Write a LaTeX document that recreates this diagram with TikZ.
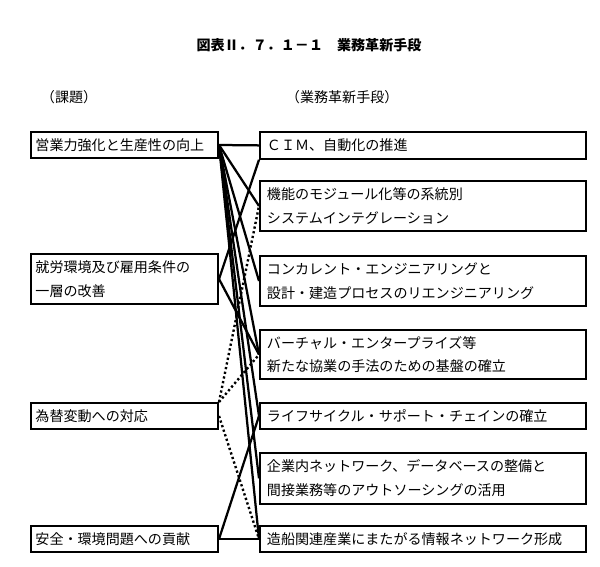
\documentclass[tikz,border=0pt]{standalone}
\usepackage{fontspec}
\setmainfont{Noto Sans CJK JP}
\usepackage{tikz}
\usetikzlibrary{positioning}

\begin{document}
\begin{tikzpicture}[
  x=0.025cm, y=-0.025cm,
  every node/.style={font=\fontsize{10}{17}\selectfont},
  issue/.style={rectangle, draw=black, line width=1.4pt, anchor=north west,
                minimum width=4.675cm, text width=4.45cm, inner xsep=0.11cm,
                align=left},
  means/.style={rectangle, draw=black, line width=1.4pt, anchor=north west,
                minimum width=8.15cm, text width=7.8cm, inner xsep=0.17cm,
                align=left},
  link/.style={draw=black, line width=1.6pt},
  weak/.style={draw=black, line width=1.7pt, dash pattern=on 1.6pt off 1.8pt}
]
\useasboundingbox (0,0) rectangle (600,567);
% Title and column heads
\node[font=\fontsize{10}{12}\selectfont\bfseries] (title) at (309,45)
  {図表Ⅱ．７．１－１　業務革新手段};
\node[anchor=west] (hissue) at (36,97) {（課題）};
\node[anchor=west] (hmeans) at (281,97) {（業務革新手段）};
% Issues (left column)
\node[issue, minimum height=0.65cm] (l1) at (30,131) {営業力強化と生産性の向上};
\node[issue, minimum height=1.25cm] (l2) at (30,253) {就労環境及び雇用条件の\\一層の改善};
\node[issue, minimum height=0.65cm] (l3) at (30,402) {為替変動への対応};
\node[issue, minimum height=0.65cm] (l4) at (30,525) {安全・環境問題への貢献};
% Means (right column)
\node[means, minimum height=0.67cm] (r1) at (259,131) {ＣＩＭ、自動化の推進};
\node[means, minimum height=1.25cm] (r2) at (259,180) {機能のモジュール化等の系統別\\システムインテグレーション};
\node[means, minimum height=1.25cm] (r3) at (259,255) {コンカレント・エンジニアリングと\\設計・建造プロセスのリエンジニアリング};
\node[means, minimum height=1.23cm] (r4) at (259,329) {バーチャル・エンタープライズ等\\新たな協業の手法のための基盤の確立};
\node[means, minimum height=0.65cm] (r5) at (259,402) {ライフサイクル・サポート・チェインの確立};
\node[means, minimum height=1.27cm] (r6) at (259,452) {企業内ネットワーク、データベースの整備と\\間接業務等のアウトソーシングの活用};
\node[means, minimum height=0.65cm] (r7) at (259,525) {造船関連産業にまたがる情報ネットワーク形成};
% Strong relations
\foreach \dst in {r1,r2,r3,r4,r5,r6,r7}
  \draw[link] (l1.east) -- (\dst.west);
\draw[link] (l2.east) -- (r1.south west);
\draw[link] (l2.east) -- (r4.west);
\draw[link] (l4.east) -- (r5.west);
\draw[link] (l4.east) -- (r7.west);
% Weak relations
\draw[weak] (l3.north east) -- (r2.west);
\draw[weak] (l3.north east) -- (r4.west);
\draw[weak] (l3.east) -- (r7.west);
\end{tikzpicture}
\end{document}
